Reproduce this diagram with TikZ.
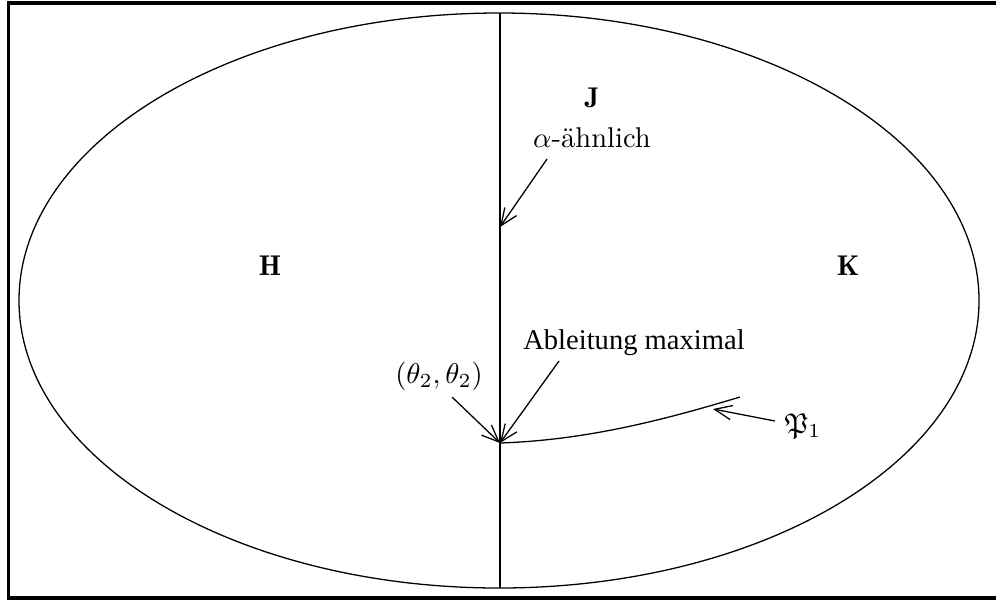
\documentclass[tikz,border=0pt]{standalone}
\usepackage{amssymb}
\usepackage{fontspec}
\newfontfamily\timesfont{Liberation Serif}
\usetikzlibrary{arrows.meta}
\tikzset{
  thinline/.style={line width=0.45pt},
  frameline/.style={line width=1.1pt},
  pointer/.style={thinline,-{Straight Barb[length=6pt,width=5pt]}},
  lbl/.style={inner sep=0pt,anchor=base}
}
\begin{document}
\begin{tikzpicture}[x=0.35pt,y=-0.35pt]
\useasboundingbox (0,0) rectangle (996,601);
% frame (right side lies outside the picture)
\draw[frameline] (1010,3) -- (8.5,3) -- (8.5,598) -- (1010,598);
% ellipse and dividing line
\draw[thinline] (499,300.5) ellipse [x radius=480, y radius=287.5];
\coordinate (top) at (500,13);
\coordinate (bot) at (500,588);
\draw[thinline] (top) -- (bot);
% points
\coordinate (a) at (500,227);
\coordinate (v) at (500,443);
\coordinate (p) at (740,397);
\coordinate (pp) at (713,409);
\draw[thinline] (v) .. controls (590,440) and (670,418) .. (p);
% labels
\node[lbl] (J) at (592,107) {$\mathbf{J}$};
\node[lbl] (alpha) at (592,147) {$\alpha$-ähnlich};
\node[lbl] (H) at (270,275) {$\mathbf{H}$};
\node[lbl] (K) at (848,275) {$\mathbf{K}$};
\node[lbl] (abl) at (634,349) {\timesfont Ableitung maximal};
\node[lbl] (theta) at (439,383) {$(\theta_2,\theta_2)$};
\node[lbl] (P) at (803,433) {$\mathfrak{P}_1$};
% arrows
\coordinate (s1) at (547,159);
\coordinate (s2) at (559,361);
\coordinate (s3) at (452,397);
\coordinate (s4) at (775,421);
\draw[pointer] (s1) -- (a);
\draw[pointer] (s2) -- (v);
\draw[pointer] (s3) -- (v);
\draw[pointer] (s4) -- (pp);
\end{tikzpicture}
\end{document}
